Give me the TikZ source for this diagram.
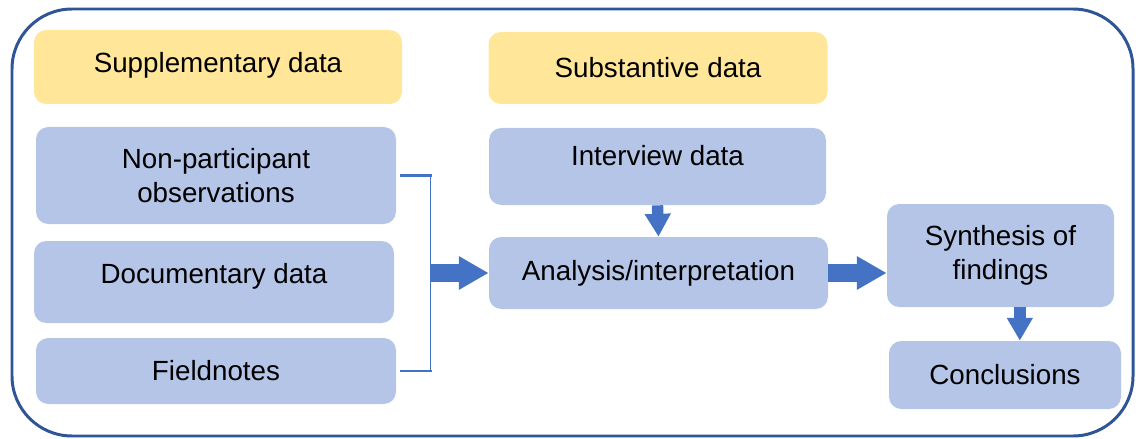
\documentclass[tikz,border=0pt]{standalone}
\usepackage{fontspec}
\setmainfont{Liberation Sans}
\usepackage{tikz}
\usetikzlibrary{positioning, calc, arrows.meta}
\definecolor{FlowBox}{HTML}{B4C5E7}
\definecolor{FlowHead}{HTML}{FFE699}
\definecolor{FlowArrow}{HTML}{4472C4}
\definecolor{FlowFrame}{HTML}{2F5597}

\begin{document}
\begin{tikzpicture}[x=0.02cm, y=-0.02cm,
    box/.style={fill=FlowBox, rounded corners=7pt, align=center, inner sep=0pt,
                font=\fontsize{15.8}{19.3}\selectfont},
    headbox/.style={box, fill=FlowHead},
    fatarrow/.style={FlowArrow, line width=10pt,
                     -{Triangle[width=18pt, length=17pt]}},
    bracket/.style={FlowArrow, line width=0.9pt}]
      \useasboundingbox (0,0) rectangle (1136,439);
      %% Outer frame
      \draw[FlowFrame, line width=1.7pt, rounded corners=1.2cm] (12,9) rectangle (1133,436);
      %% Headers
      \node[headbox, minimum width=368*0.02cm, minimum height=74*0.02cm, text depth=0.2cm] (supp) at (218,67) {Supplementary data};
      \node[headbox, minimum width=339*0.02cm, minimum height=72*0.02cm] (subst) at (658,68) {Substantive data};
      %% Supplementary sources
      \node[box, minimum width=360*0.02cm, minimum height=97*0.02cm] (obs) at (216,175.5) {Non-participant\\observations};
      \node[box, minimum width=360*0.02cm, minimum height=82*0.02cm, text depth=0.36cm] (doc) at (214,282) {Documentary data};
      \node[box, minimum width=360*0.02cm, minimum height=66*0.02cm] (field) at (216,371) {Fieldnotes};
      %% Substantive data and analysis
      \node[box, minimum width=337*0.02cm, minimum height=77*0.02cm, text depth=0.44cm] (inter) at (657.5,166.5) {Interview data};
      \node[box, minimum width=339*0.02cm, minimum height=72*0.02cm] (ana) at (658.5,273) {Analysis/interpretation};
      \node[box, minimum width=227*0.02cm, minimum height=103*0.02cm] (synth) at (1000.5,255.5) {Synthesis of\\findings};
      \node[box, minimum width=232*0.02cm, minimum height=68*0.02cm] (concl) at (1005,375) {Conclusions};
      %% Bracket joining the supplementary sources
      \coordinate (brtop) at ($(obs.east)+(34,0)$);
      \coordinate (brbot) at (brtop |- field.east);
      \draw[bracket, line width=1.7pt] ([xshift=2]obs.east) -- ([xshift=1]brtop);
      \draw[bracket, line width=1.7pt] ([xshift=2]field.east) -- ([xshift=1]brbot);
      \draw[bracket] (brtop) -- (brbot);
      %% Arrows
      \draw[fatarrow] (brtop |- ana.west) -- (ana.west);
      \draw[fatarrow, line width=6.5pt, -{Triangle[width=14pt, length=13pt]}] (inter.south) -- (ana.north);
      \draw[fatarrow] (ana.east) -- (synth.west |- ana.east);
      \draw[fatarrow, line width=6.5pt, -{Triangle[width=14pt, length=13pt]}] ([xshift=11]synth.south) -- ([xshift=11]synth.south |- concl.north);
\end{tikzpicture}
\end{document}
